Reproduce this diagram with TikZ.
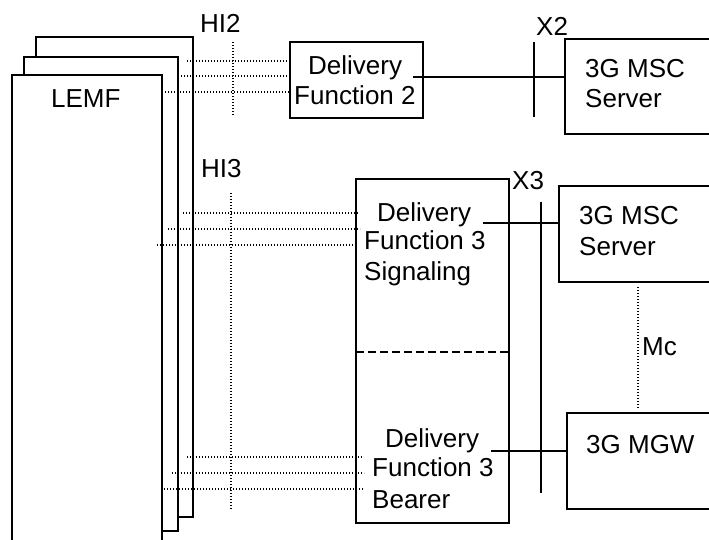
\documentclass[tikz,border=0pt]{standalone}
\usepackage{fontspec}
\setmainfont{Liberation Sans}
\begin{document}
\begin{tikzpicture}[x=1pt,y=-1pt,
  box/.style={draw, line width=1.3pt, inner sep=0pt, outer sep=0pt, anchor=north west, fill=white},
  lbl/.style={inner sep=0pt, anchor=base west, font=\fontsize{26}{30}\selectfont},
  wire/.style={line width=1.3pt},
  dots/.style={line width=1.3pt, dash pattern=on 1.3pt off 1.7pt},
  dash line/.style={line width=1.3pt, dash pattern=on 8pt off 4pt},
]
\useasboundingbox (0,0) rectangle (709,539);
\clip (0,0) rectangle (709,539);
\fill[white] (0,0) rectangle (709,539);

% LEMF stack
\node[box, minimum width=157pt, minimum height=480pt] (lemfc) at (36,37) {};
\node[box, minimum width=154pt, minimum height=474pt] (lemfb) at (24,57) {};
\node[box, minimum width=150pt, minimum height=500pt] (lemfa) at (12,75) {};
\node[lbl] (lemft) at (51,107) {LEMF};

% HI2
\node[lbl] (hi2) at (200,32) {HI2};
\coordinate (hi2t) at (233,42);
\coordinate (hi2b) at (233,116);
\draw[dots] (hi2t) -- (hi2b);

% Delivery Function 2
\node[box, minimum width=133pt, minimum height=76pt] (df2) at (290,42) {};
\node[lbl] (df2a) at (308,74) {Delivery};
\node[lbl] (df2b) at (294,104) {Function 2};

\coordinate (h2a) at (187,61);
\coordinate (h2b) at (178,76);
\coordinate (h2c) at (162,92);
\draw[dots] (h2a) -- (h2a -| df2.west);
\draw[dots] (h2b) -- (h2b -| df2.west);
\draw[dots] (h2c) -- (h2c -| df2.west);

% 3G MSC Server (top)
\node[box, minimum width=200pt, minimum height=95pt] (msc1) at (565,39) {};
\node[lbl] (msc1a) at (585,77) {3G MSC};
\node[lbl] (msc1b) at (585,107) {Server};

% X2
\node[lbl] (x2) at (536,35) {X2};
\coordinate (x2t) at (534,42);
\coordinate (x2b) at (534,117);
\draw[wire] (x2t) -- (x2b);
\coordinate (df2o) at (413,77);
\draw[wire] (df2o) -- (df2o -| msc1.west);

% HI3
\node[lbl] (hi3) at (201,177) {HI3};
\coordinate (hi3t) at (231,193);
\coordinate (hi3b) at (231,510);
\draw[dots] (hi3t) -- (hi3b);

% Delivery Function 3
\node[box, minimum width=153pt, minimum height=344pt] (df3) at (356,179) {};
\coordinate (dsep) at (356,352);
\draw[dash line] (dsep) -- (dsep -| df3.east);
\node[lbl] (df3a) at (377,221) {Delivery};
\node[lbl] (df3b) at (364,249) {Function 3};
\node[lbl] (df3c) at (364,280) {Signaling};
\node[lbl] (df3d) at (385,447) {Delivery};
\node[lbl] (df3e) at (372,476) {Function 3};
\node[lbl] (df3f) at (372,508) {Bearer};

\coordinate (h3a) at (183,213);
\coordinate (h3b) at (168,229);
\coordinate (h3c) at (157,245);
\coordinate (h3ae) at (359,213);
\coordinate (h3be) at (360,229);
\coordinate (h3ce) at (357,245);
\draw[dots] (h3a) -- (h3ae);
\draw[dots] (h3b) -- (h3be);
\draw[dots] (h3c) -- (h3ce);
\coordinate (h3d) at (187,457);
\coordinate (h3e) at (172,473);
\coordinate (h3f) at (161,489);
\coordinate (h3de) at (363,457);
\coordinate (h3ee) at (364,473);
\coordinate (h3fe) at (364,489);
\draw[dots] (h3d) -- (h3de);
\draw[dots] (h3e) -- (h3ee);
\draw[dots] (h3f) -- (h3fe);

% 3G MSC Server (lower)
\node[box, minimum width=200pt, minimum height=96pt] (msc2) at (559,186) {};
\node[lbl] (msc2a) at (579,224) {3G MSC};
\node[lbl] (msc2b) at (579,255) {Server};

% 3G MGW
\node[box, minimum width=200pt, minimum height=96pt] (mgw) at (567,413) {};
\node[lbl] (mgwa) at (586,453) {3G MGW};

% Mc
\coordinate (mct) at (638,287);
\coordinate (mcb) at (638,409);
\draw[dots] (mct) -- (mcb);
\node[lbl] (mc) at (642,355) {Mc};

% X3
\node[lbl] (x3) at (512,189) {X3};
\coordinate (x3t) at (541,202);
\coordinate (x3b) at (541,493);
\draw[wire] (x3t) -- (x3b);
\coordinate (df3o) at (483,223);
\draw[wire] (df3o) -- (df3o -| msc2.west);
\coordinate (df3p) at (491,451);
\draw[wire] (df3p) -- (df3p -| mgw.west);
\end{tikzpicture}
\end{document}
